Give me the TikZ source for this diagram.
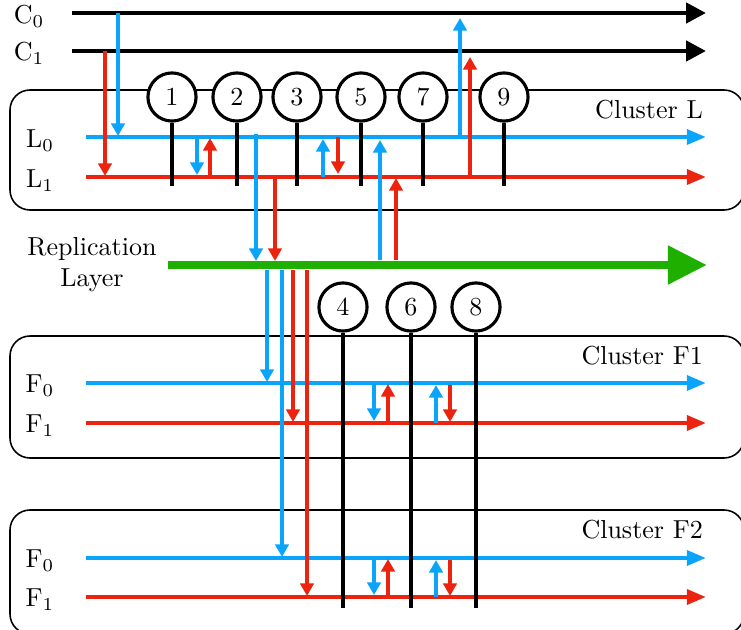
\documentclass[tikz,border=0pt]{standalone}
\usepackage{xcolor}
\usepackage{tikz}
\usetikzlibrary{arrows.meta}

\definecolor{repblue}{RGB}{10,165,250}
\definecolor{repred}{RGB}{235,35,15}
\definecolor{repgreen}{RGB}{30,175,0}

\tikzset{
  chan/.style={line width=1.8pt,-{Triangle[length=0.27cm,width=0.27cm]}},
  bline/.style={repblue,line width=1.6pt,-{Triangle[length=0.26cm,width=0.2cm]}},
  rline/.style={repred,line width=1.6pt,-{Triangle[length=0.26cm,width=0.2cm]}},
  bmsg/.style={repblue,line width=1.25pt,-{Triangle[length=0.17cm,width=0.18cm]}},
  rmsg/.style={repred,line width=1.25pt,-{Triangle[length=0.17cm,width=0.18cm]}},
  proc/.style={circle,draw,line width=1.2pt,fill=white,minimum size=0.65cm,inner sep=0pt},
  cluster/.style={draw,line width=0.6pt,rounded corners=0.27cm},
  stem/.style={line width=1.25pt},
}

\begin{document}
\begin{tikzpicture}[x=0.0135cm,y=-0.0135cm]
  \useasboundingbox (0,0) rectangle (741,630);
  % cluster boxes
  \draw[cluster] (10,90) rectangle (744,210);
  \draw[cluster] (10,336) rectangle (744,458);
  \draw[cluster] (10,510) rectangle (744,634);
  \node[left] (cl) at (712,110) {Cluster L};
  \node[left] (cf1) at (712,356) {Cluster F1};
  \node[left] (cf2) at (712,530) {Cluster F2};

  % client channels
  \node (c0) at (29,16) {C$_0$};
  \node (c1) at (29,53) {C$_1$};
  \draw[chan] (72,13) -- (706,13);
  \draw[chan] (72,51) -- (706,51);

  % leader cluster
  \node (l0) at (40,141) {L$_0$};
  \node (l1) at (40,181) {L$_1$};
  \draw[bline] (86,137) -- (706,137);
  \draw[rline] (86,177) -- (706,177);

  % replication layer
  \node[align=center] (rep) at (92,265) {Replication\\Layer};
  \draw[repgreen,line width=3.3pt,-{Triangle[length=0.53cm,width=0.5cm]}] (168,265) -- (707,265);

  % follower clusters
  \foreach \fa/\fb in {383/423,558/597}{
    \node at (40,\fa+3) {F$_0$};
    \node at (40,\fb+3) {F$_1$};
    \draw[bline] (86,\fa) -- (706,\fa);
    \draw[rline] (86,\fb) -- (706,\fb);
    \draw[bmsg] (374,\fa) -- (374,\fb-2);
    \draw[rmsg] (388,\fb) -- (388,\fa+1);
    \draw[bmsg] (436,\fb) -- (436,\fa+2);
    \draw[rmsg] (450,\fa+2) -- (450,\fb-1);
  }

  % messages
  \draw[bmsg] (118,13) -- (118,136);
  \draw[rmsg] (105,51) -- (105,176);
  \draw[bmsg] (197,137) -- (197,175);
  \draw[rmsg] (210,177) -- (210,138);
  \draw[bmsg] (323,177) -- (323,139);
  \draw[rmsg] (338,137) -- (338,174);
  \draw[bmsg] (460,137) -- (460,18);
  \draw[rmsg] (470,177) -- (470,57);
  \draw[bmsg] (256,134) -- (256,261);
  \draw[rmsg] (275,177) -- (275,261);
  \draw[bmsg] (380,260) -- (380,140);
  \draw[rmsg] (396,260) -- (396,178);
  \draw[bmsg] (267,270) -- (267,382);
  \draw[bmsg] (282,270) -- (282,557);
  \draw[rmsg] (293,270) -- (293,422);
  \draw[rmsg] (307,270) -- (307,596);

  % processes
  \foreach \n/\x in {1/172,2/237,3/297,5/361,7/423,9/504}{
    \node[proc] (p\n) at (\x,97) {\n};
    \draw[stem] (p\n) -- (\x,186);
  }
  \foreach \n/\x in {4/343,6/411,8/476}{
    \node[proc] (p\n) at (\x,307) {\n};
    \draw[stem] (p\n) -- (\x,608);
  }
\end{tikzpicture}
\end{document}
